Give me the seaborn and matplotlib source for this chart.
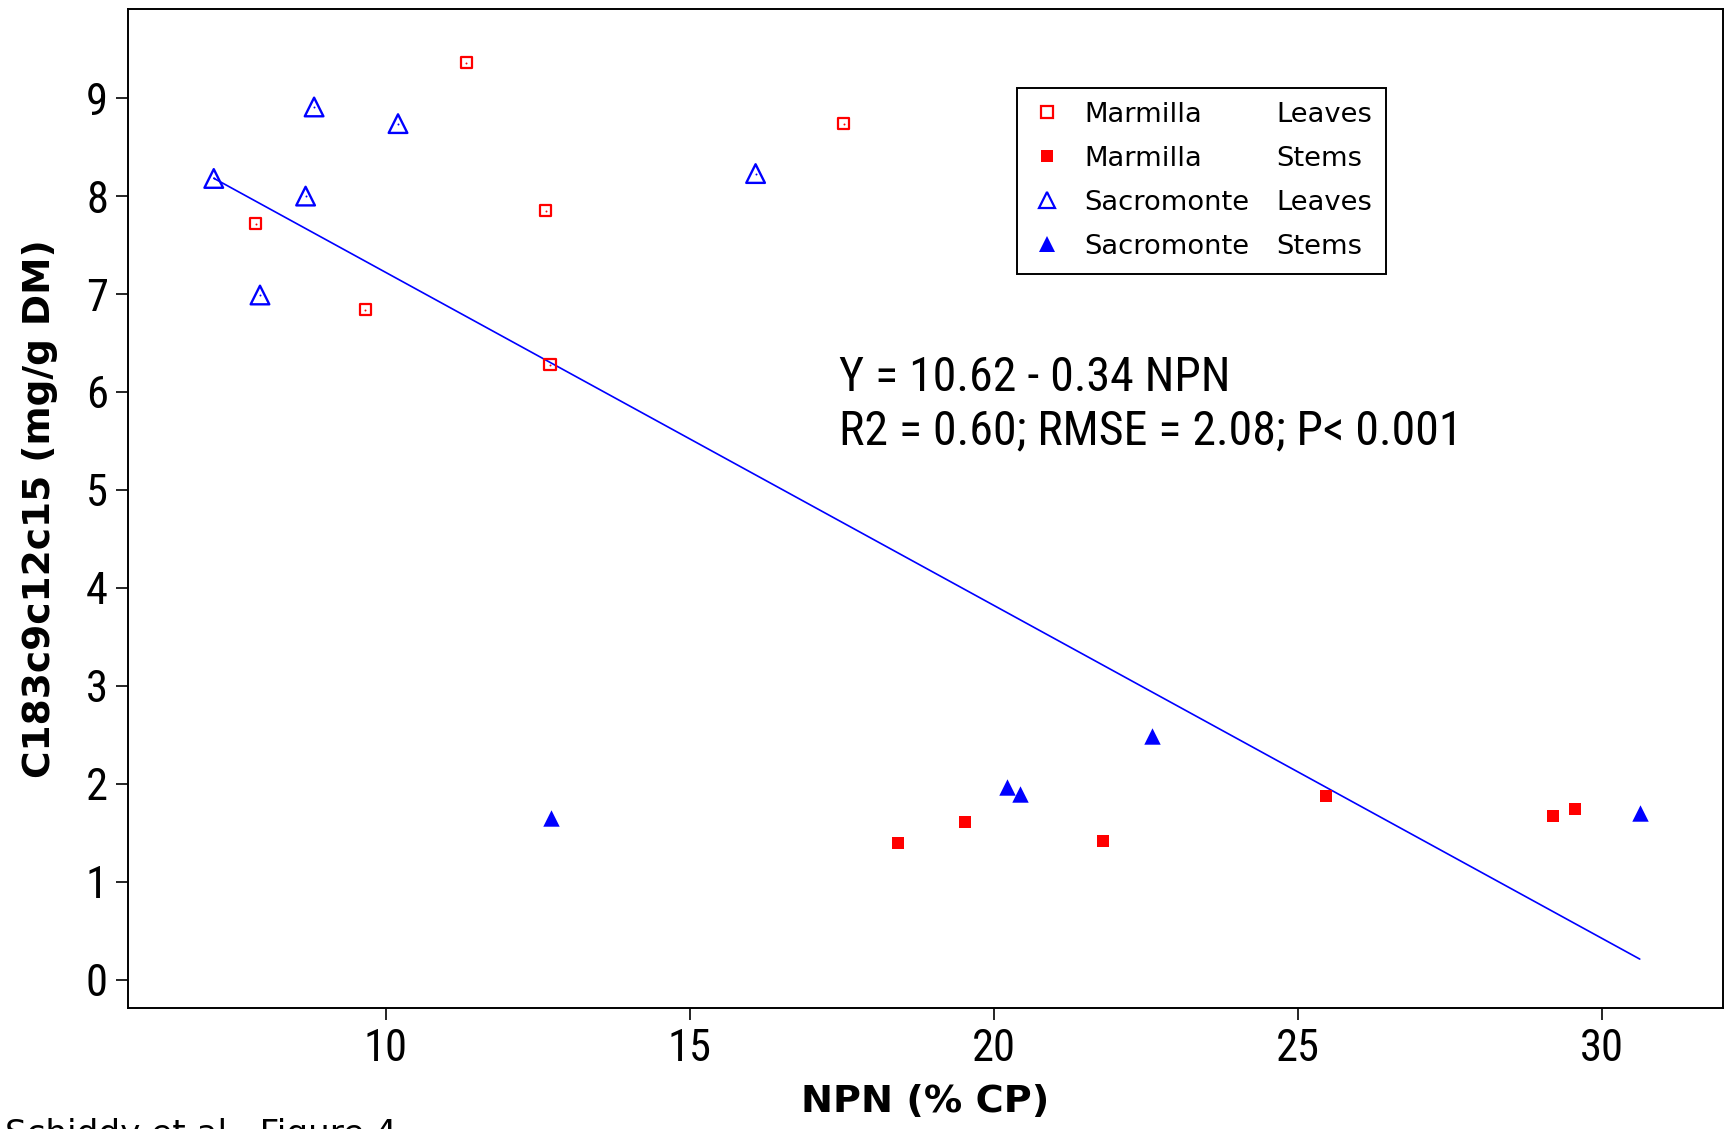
import numpy as np
import pandas as pd
import matplotlib
matplotlib.use("Agg")
import matplotlib.pyplot as plt
from matplotlib.lines import Line2D
import seaborn as sns

# ---- data ----
ml_npn = [11.32, 7.86, 12.63, 9.66, 12.70, 17.53]          # Marmilla Leaves
ml_val = [9.36, 7.72, 7.85, 6.84, 6.28, 8.74]
ms_npn = [18.42, 19.53, 21.80, 25.46, 29.20, 29.55]        # Marmilla Stems
ms_val = [1.39, 1.61, 1.41, 1.87, 1.67, 1.74]
sl_npn = [7.17, 8.82, 10.20, 8.68, 7.93, 16.08]            # Sacromonte Leaves
sl_val = [8.18, 8.91, 8.74, 8.00, 6.99, 8.23]
ss_npn = [12.72, 20.22, 20.42, 22.60, 30.62]               # Sacromonte Stems
ss_val = [1.65, 1.97, 1.89, 2.49, 1.70]

fit_intercept = 10.62
fit_slope = -0.34

x_ticks = [10, 15, 20, 25, 30]
y_ticks = [0, 1, 2, 3, 4, 5, 6, 7, 8, 9]
x_label = "NPN (% CP)"
y_label = "C183c9c12c15 (mg/g DM)"
eq_line1 = "Y = 10.62 - 0.34 NPN"
eq_line2 = "R2 = 0.60; RMSE = 2.08; P< 0.001"
footer = "Schiddy et al., Figure 4"
leg_variety = ["Marmilla", "Marmilla", "Sacromonte", "Sacromonte"]
leg_organ = ["Leaves", "Stems", "Leaves", "Stems"]

# ---- style ----
sns.set_theme(style="ticks")
plt.rcParams["font.family"] = ["DejaVu Sans"]
plt.rcParams["text.color"] = "black"
plt.rcParams["axes.labelcolor"] = "black"
NARROW = ["Roboto Condensed", "Roboto", "DejaVu Sans"]

RED = "#FF0000"
BLUE = "#0000FF"

fig = plt.figure(figsize=(17.30, 11.29), dpi=100)
ax = fig.add_axes([0.0740, 0.1072, 0.9220, 0.8848])

def df(x, y):
    return pd.DataFrame({"x": x, "y": y})

# open markers
sns.scatterplot(data=df(ml_npn, ml_val), x="x", y="y", marker="s", s=64,
                facecolors="none", edgecolor=RED, linewidth=1.6, ax=ax, zorder=3)
sns.scatterplot(data=df(sl_npn, sl_val), x="x", y="y", marker="^", s=180,
                facecolors="none", edgecolor=BLUE, linewidth=1.7, ax=ax, zorder=3)
# tiny centre dots of the open markers
sns.scatterplot(data=df(ml_npn, ml_val), x="x", y="y", marker="o", s=2,
                color=RED, linewidth=0, ax=ax, zorder=4)
sns.scatterplot(data=df(sl_npn, sl_val), x="x", y="y", marker="o", s=2,
                color=BLUE, linewidth=0, ax=ax, zorder=4)
# filled markers
sns.scatterplot(data=df(ms_npn, ms_val), x="x", y="y", marker="s", s=72,
                color=RED, linewidth=0, ax=ax, zorder=3)
sns.scatterplot(data=df(ss_npn, ss_val), x="x", y="y", marker="^", s=140,
                color=BLUE, linewidth=0, ax=ax, zorder=3)

# regression line over the observed NPN range
all_x = np.concatenate([ml_npn, ms_npn, sl_npn, ss_npn])
fit_x = np.array([all_x.min(), all_x.max()])
fit_y = fit_intercept + fit_slope * fit_x
sns.lineplot(x=fit_x, y=fit_y, color=BLUE, linewidth=1.2, ax=ax, zorder=2)

ax.set_xlim(5.76, 31.99)
ax.set_ylim(-0.29, 9.91)
ax.set_xticks(x_ticks)
ax.set_yticks(y_ticks)
ax.set_xlabel(x_label, fontsize=27.5, fontweight="bold", labelpad=10,
              color="black")
ax.set_ylabel(y_label, fontsize=27, fontweight="bold", labelpad=20,
              color="black")

for sp in ax.spines.values():
    sp.set_visible(True)
    sp.set_linewidth(1.4)
    sp.set_color("black")
ax.tick_params(axis="both", which="major", direction="out", length=8.5,
               width=1.2, color="black", pad=6, top=False, right=False)
for lab in ax.get_xticklabels() + ax.get_yticklabels():
    lab.set_fontfamily(NARROW)
    lab.set_fontsize(32)
    lab.set_color("black")

# equation text
ax.text(0.4458, 0.6303, eq_line1, transform=ax.transAxes, ha="left",
        va="center", fontsize=34.5, family=NARROW, color="black")
ax.text(0.4458, 0.5775, eq_line2, transform=ax.transAxes, ha="left",
        va="center", fontsize=34.5, family=NARROW, color="black")

# legend: two columns (variety | organ)
h_ml = Line2D([], [], linestyle="none", marker="s", markersize=8,
              markerfacecolor="none", markeredgecolor=RED, markeredgewidth=1.6)
h_ms = Line2D([], [], linestyle="none", marker="s", markersize=8.5,
              markerfacecolor=RED, markeredgecolor=RED, markeredgewidth=0)
h_sl = Line2D([], [], linestyle="none", marker="^", markersize=12,
              markerfacecolor="none", markeredgecolor=BLUE, markeredgewidth=1.6)
h_ss = Line2D([], [], linestyle="none", marker="^", markersize=11.5,
              markerfacecolor=BLUE, markeredgecolor=BLUE, markeredgewidth=0)
blank = [Line2D([], [], linestyle="none") for _ in range(4)]
leg = ax.legend(handles=[h_ml, h_ms, h_sl, h_ss] + blank,
                labels=leg_variety + leg_organ,
                ncol=2, loc="upper left", bbox_to_anchor=(0.5574, 0.9209),
                borderaxespad=0, fontsize=19.7, frameon=True, fancybox=False,
                shadow=False, framealpha=1, edgecolor="black",
                handlelength=1.19, handletextpad=0.76, columnspacing=-0.96,
                labelspacing=0.66, borderpad=0.5)
leg.get_frame().set_linewidth(1.4)

# footer (cut by the bottom edge as in the reference)
fig.text(0.003, -0.013, footer, ha="left", va="baseline", fontsize=24.6,
         color="black")

fig.savefig("out.png", dpi=100, facecolor="white")
